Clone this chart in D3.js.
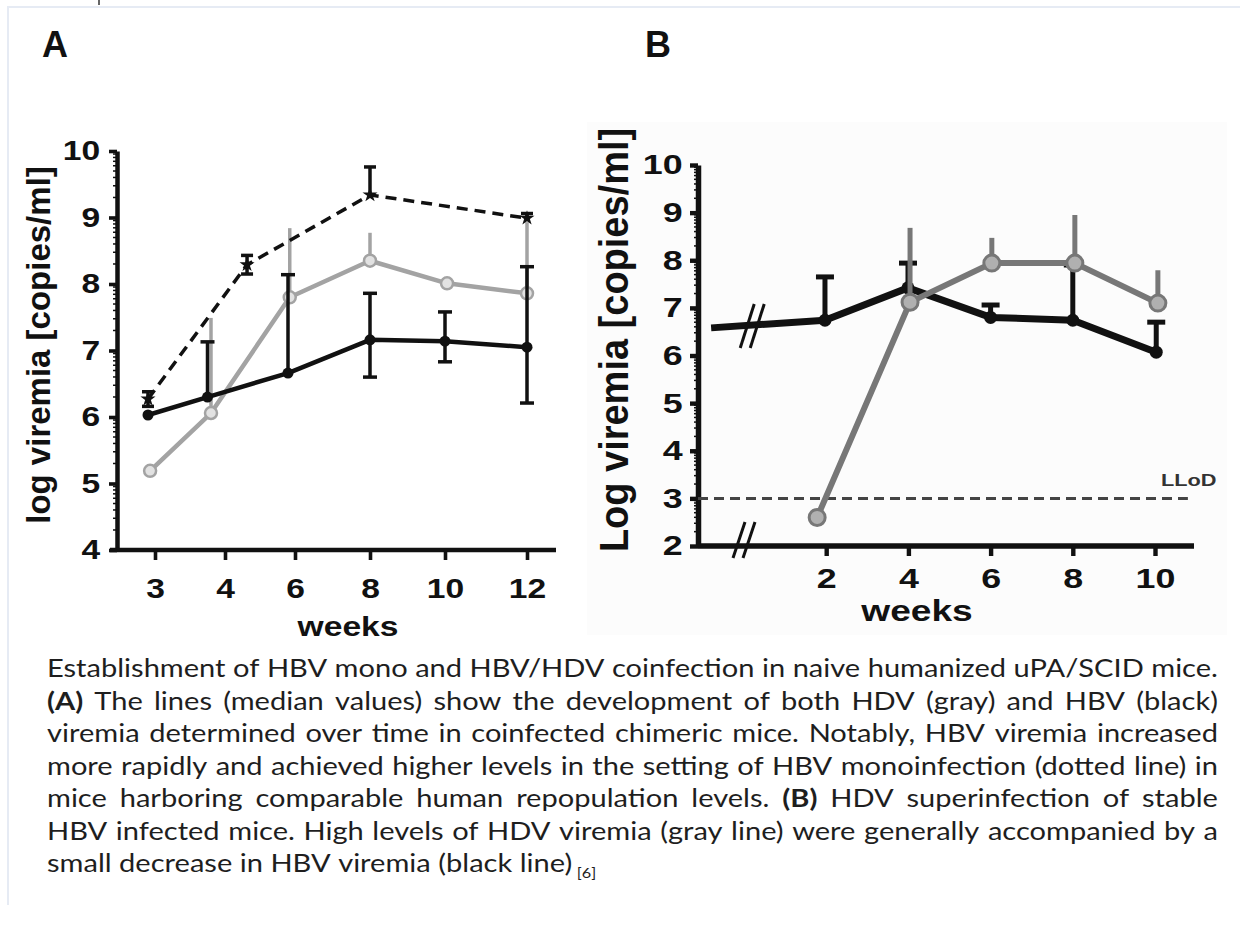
<!DOCTYPE html>
<meta charset="utf-8">
<style>
body { margin: 0; background: #fff; }
svg { display: block; }
.lbl { font-family: "Liberation Sans", Arial, sans-serif; font-weight: bold; fill: #111; }
.cap { font-family: Lato, "Open Sans", sans-serif; font-size: 25px; fill: #1e1e1e; }
</style>
<svg width="1240" height="925"></svg>
<script src="https://d3js.org/d3.v7.min.js"></script>
<script>

// ---- panel A : HBV/HDV coinfection vs HBV mono infection ----
var tickWeeksA = [3, 4, 6, 8, 10, 12];
var hbvWeeksA = [2.9, 3.75, 5.8, 8, 10, 12];
var hbvA      = [6.03, 6.30, 6.66, 7.16, 7.14, 7.05];
var hbvHiA    = [null, 7.13, 8.14, 7.86, 7.58, 8.26];
var hbvLoA    = [null, null, null, 6.60, 6.83, 6.21];
var hdvWeeksA = [2.93, 3.8, 5.85, 8, 10.05, 12];
var hdvA      = [5.19, 6.06, 7.80, 8.35, 8.01, 7.86];
var hdvHiA    = [null, 7.49, 8.84, 8.77, null, 8.93];
var monoWeeksA = [2.9, 4.63, 8, 12];
var monoA      = [6.27, 8.29, 9.34, 8.99];
var monoHiA    = [6.38, 8.43, 9.76, 9.06];
var monoLoA    = [6.16, 8.15, null, null];

// ---- panel B : HDV superinfection of HBV infected mice ----
var tickWeeksB = [2, 4, 6, 8, 10];
var hbvWeeksB = [-0.8, 1.97, 3.99, 6, 8, 10.03];
var hbvB      = [6.58, 6.74, 7.42, 6.80, 6.74, 6.07];
var hbvHiB    = [null, 7.65, 7.94, 7.06, 7.90, 6.70];
var hdvWeeksB = [1.78, 4.04, 6.03, 8.05, 10.07];
var hdvB      = [2.6, 7.12, 7.94, 7.94, 7.10];
var hdvHiB    = [null, 8.68, 8.47, 8.95, 7.79];
var llod = 3;

var captionLines = [
  [["Establishment of HBV mono and HBV/HDV coinfection in naive humanized uPA/SCID mice.", false]],
  [["(A)", true], [" The lines (median values) show the development of both HDV (gray) and HBV (black)", false]],
  [["viremia determined over time in coinfected chimeric mice. Notably, HBV viremia increased", false]],
  [["more rapidly and achieved higher levels in the setting of HBV monoinfection (dotted line) in", false]],
  [["mice harboring comparable human repopulation levels. ", false], ["(B)", true], [" HDV superinfection of stable", false]],
  [["HBV infected mice. High levels of HDV viremia (gray line) were generally accompanied by a", false]],
  [["small decrease in HBV viremia (black line)", false]]
];
var captionJustify = [false, true, true, true, true, true, false];

var svg = d3.select("svg");

svg.append("rect").attr("width", 1240).attr("height", 925).attr("fill", "#fff");
// remnants of the page frame
svg.append("path").attr("d", "M8,905V7H1240").attr("fill", "none")
    .attr("stroke", "#e6ebf4").attr("stroke-width", 2);
svg.append("line").attr("x1", 99).attr("x2", 99).attr("y1", 0).attr("y2", 5)
    .attr("stroke", "#333").attr("stroke-width", 1.5);
svg.append("rect").attr("x", 587).attr("y", 122).attr("width", 640).attr("height", 513)
    .attr("fill", "#fcfcfc");

function minorTicks(lo, hi) {
  var t = [];
  for (var v = lo; v < hi; v++)
    for (var k = 2; k < 10; k++) t.push(v + Math.log10(k));
  return t;
}

function styleAxis(g, sx, fs, lw) {
  g.attr("font-size", null).attr("font-family", null);
  g.select(".domain").attr("stroke", "#111").attr("stroke-width", lw);
  g.selectAll(".tick line").attr("stroke", "#111").attr("stroke-width", lw * 0.8);
  g.selectAll(".tick text").attr("class", "lbl").style("font-size", fs + "px")
      .attr("transform", "scale(" + sx + ",1)");
}

function drawSeries(g, x, y, weeks, vals, hi, lo, o) {
  var pts = weeks.map(function(w, i) {
    return {w: w, v: vals[i], hi: hi ? hi[i] : null, lo: lo ? lo[i] : null, i: i};
  });
  var eb = g.append("g").attr("stroke", o.color).attr("stroke-width", o.ew);
  pts.forEach(function(d) {
    [d.hi, d.lo].forEach(function(e) {
      if (e == null) return;
      eb.append("line").attr("x1", x(d.w)).attr("x2", x(d.w)).attr("y1", y(d.v)).attr("y2", y(e));
      if (o.cap) eb.append("line").attr("x1", x(d.w) - o.cap / 2).attr("x2", x(d.w) + o.cap / 2)
          .attr("y1", y(e)).attr("y2", y(e));
    });
  });
  g.append("path").datum(pts)
      .attr("fill", "none").attr("stroke", o.color).attr("stroke-width", o.lw)
      .attr("stroke-dasharray", o.dash || null).attr("stroke-linejoin", "round")
      .attr("d", d3.line().x(function(d) { return x(d.w); }).y(function(d) { return y(d.v); }));
  var mk = pts.filter(function(d) { return d.i >= (o.markFrom || 0); });
  if (o.star) {
    g.selectAll(null).data(mk).enter().append("path")
        .attr("transform", function(d) { return "translate(" + x(d.w) + "," + y(d.v) + ")"; })
        .attr("d", d3.symbol(d3.symbolStar).size(o.star)).attr("fill", o.color);
  } else {
    g.selectAll(null).data(mk).enter().append("circle")
        .attr("cx", function(d) { return x(d.w); }).attr("cy", function(d) { return y(d.v); })
        .attr("r", o.r).attr("fill", o.fill).attr("stroke", o.stroke || "none")
        .attr("stroke-width", o.sw || 0);
  }
}

function breakMark(g, cx, cy, h, w) {
  [-5, 5].forEach(function(off) {
    g.append("line").attr("x1", cx + off - w / 2).attr("y1", cy + h / 2)
        .attr("x2", cx + off + w / 2).attr("y2", cy - h / 2)
        .attr("stroke", "#111").attr("stroke-width", 3);
  });
}

// ================= panel A =================
var axA = 117, baseA = 550, sxA = 1.2;
var yA = d3.scaleLinear().domain([4, 10]).range([baseA, 151]);
var xA = d3.scaleLinear().domain(tickWeeksA).range([155, 225, 295, 370, 445, 527]);
var gA = svg.append("g");

var yAxisA = gA.append("g").attr("transform", "translate(" + axA + ",0)")
    .call(d3.axisLeft(yA).tickValues(d3.range(4, 11)).tickFormat(d3.format("d"))
      .tickSize(8).tickPadding(6).tickSizeOuter(0));
styleAxis(yAxisA, sxA, 28, 4.5);
yAxisA.selectAll(null).data(minorTicks(4, 10)).enter().append("line")
    .attr("x1", -4).attr("x2", 0).attr("y1", yA).attr("y2", yA)
    .attr("stroke", "#111").attr("stroke-width", 1.5);

var xAxisA = gA.append("g").attr("transform", "translate(0," + baseA + ")")
    .call(d3.axisBottom(xA).tickValues(tickWeeksA).tickFormat(d3.format("d"))
      .tickSize(10).tickSizeOuter(0));
styleAxis(xAxisA, sxA, 28, 4.5);
xAxisA.select(".domain").attr("d", "M110,0H556");
xAxisA.selectAll(".tick text").attr("y", 48).attr("dy", null);

drawSeries(gA, xA, yA, hdvWeeksA, hdvA, hdvHiA, null,
    {color: "#a3a3a3", lw: 4.5, ew: 3.5, r: 6, fill: "#e2e2e2", stroke: "#a3a3a3", sw: 2.5});
drawSeries(gA, xA, yA, monoWeeksA, monoA, monoHiA, monoLoA,
    {color: "#111", lw: 3.5, ew: 3.5, cap: 12, dash: "11,7", star: 70});
drawSeries(gA, xA, yA, hbvWeeksA, hbvA, hbvHiA, hbvLoA,
    {color: "#111", lw: 4.5, ew: 3.5, cap: 14, r: 5.5, fill: "#111"});

gA.append("text").attr("class", "lbl").style("font-size", "33px")
    .attr("text-anchor", "middle")
    .attr("transform", "translate(50,345) scale(1.02,1) rotate(-90)")
    .text("log viremia [copies/ml]");
gA.append("text").attr("class", "lbl").style("font-size", "28px")
    .attr("text-anchor", "middle")
    .attr("transform", "translate(348,636) scale(" + sxA + ",1)")
    .text("weeks");
gA.append("text").attr("class", "lbl").style("font-size", "36px")
    .attr("x", 42).attr("y", 57).text("A");

// ================= panel B =================
var axB = 698, baseB = 546, sxB = 1.28;
var yB = d3.scaleLinear().domain([2, 10]).range([baseB, 165]);
var xB = d3.scaleLinear().domain([0, 10]).range([744, 1155]);
var gB = svg.append("g");

var yAxisB = gB.append("g").attr("transform", "translate(" + axB + ",0)")
    .call(d3.axisLeft(yB).tickValues(d3.range(2, 11)).tickFormat(d3.format("d"))
      .tickSize(8).tickPadding(4).tickSizeOuter(0));
styleAxis(yAxisB, sxB, 28, 5.5);
yAxisB.selectAll(null).data(minorTicks(2, 10)).enter().append("line")
    .attr("x1", -4).attr("x2", 0).attr("y1", yB).attr("y2", yB)
    .attr("stroke", "#111").attr("stroke-width", 1.5);

var xAxisB = gB.append("g").attr("transform", "translate(0," + baseB + ")")
    .call(d3.axisBottom(xB).tickValues(tickWeeksB).tickFormat(d3.format("d"))
      .tickSize(10).tickSizeOuter(0));
styleAxis(xAxisB, sxB, 28, 5.5);
xAxisB.select(".domain").attr("d", "M" + axB + ",0H1194");
xAxisB.selectAll(".tick text").attr("y", 42).attr("dy", null);

// lower limit of detection
gB.append("line").attr("x1", axB).attr("x2", xB(10.8)).attr("y1", yB(llod)).attr("y2", yB(llod))
    .attr("stroke", "#444").attr("stroke-width", 3).attr("stroke-dasharray", "10,6");
gB.append("text").attr("class", "lbl").style("font-size", "17px").style("fill", "#333")
    .attr("transform", "translate(1161," + (yB(llod) - 12) + ") scale(" + sxB + ",1)")
    .text("LLoD");

drawSeries(gB, xB, yB, hbvWeeksB, hbvB, hbvHiB, null,
    {color: "#111", lw: 7, ew: 5, cap: 18, r: 6.5, fill: "#111", markFrom: 1});
drawSeries(gB, xB, yB, hdvWeeksB, hdvB, hdvHiB, null,
    {color: "#777", lw: 6, ew: 5, r: 8, fill: "#b0b0b0", stroke: "#777", sw: 3});

breakMark(gB, xB(0.2), yB(6.62), 44, 14);
breakMark(gB, xB(0), baseB - 6, 36, 12);

gB.append("text").attr("class", "lbl").style("font-size", "38px")
    .attr("text-anchor", "middle")
    .attr("transform", "translate(628,340) scale(1.08,1) rotate(-90)")
    .text("Log viremia [copies/ml]");
gB.append("text").attr("class", "lbl").style("font-size", "29px")
    .attr("text-anchor", "middle")
    .attr("transform", "translate(917,621) scale(" + sxB + ",1)")
    .text("weeks");
gB.append("text").attr("class", "lbl").style("font-size", "36px")
    .attr("x", 645).attr("y", 57).text("B");

// ================= caption =================
var capX = 47, capW = 1171, capY0 = 677, capDy = 32.5;
var probe = svg.append("text").attr("class", "cap");
function textW(s, bold) {
  probe.text(s).style("font-weight", bold ? "bold" : "normal");
  return probe.node().getComputedTextLength();
}
var spaceW = textW("a a", false) - textW("aa", false);

var capWords = captionLines.map(function(line) {
  var words = [];
  line.forEach(function(seg) {
    seg[0].split(" ").forEach(function(w) {
      if (w.length) words.push({t: w, b: seg[1], w: textW(w, seg[1])});
    });
  });
  return words;
});
var first = capWords[0];
var natural0 = d3.sum(first, function(d) { return d.w; }) + spaceW * (first.length - 1);
var capSx = capW / natural0;
probe.remove();

capWords.forEach(function(words, li) {
  var sum = d3.sum(words, function(d) { return d.w; });
  var gap = captionJustify[li] ? (capW / capSx - sum) / (words.length - 1) : spaceW;
  var t = svg.append("text").attr("class", "cap")
      .attr("transform", "translate(" + capX + "," + (capY0 + li * capDy) + ") scale(" + capSx + ",1)");
  var pos = 0;
  words.forEach(function(d) {
    t.append("tspan").attr("x", pos).attr("y", 0)
        .style("font-weight", d.b ? "bold" : "normal").text(d.t);
    pos += d.w + gap;
  });
  if (li === captionLines.length - 1) {
    t.append("tspan").attr("x", pos - gap + 4).attr("y", 6)
        .style("font-size", "14px").text("[6]");
  }
});

</script>
